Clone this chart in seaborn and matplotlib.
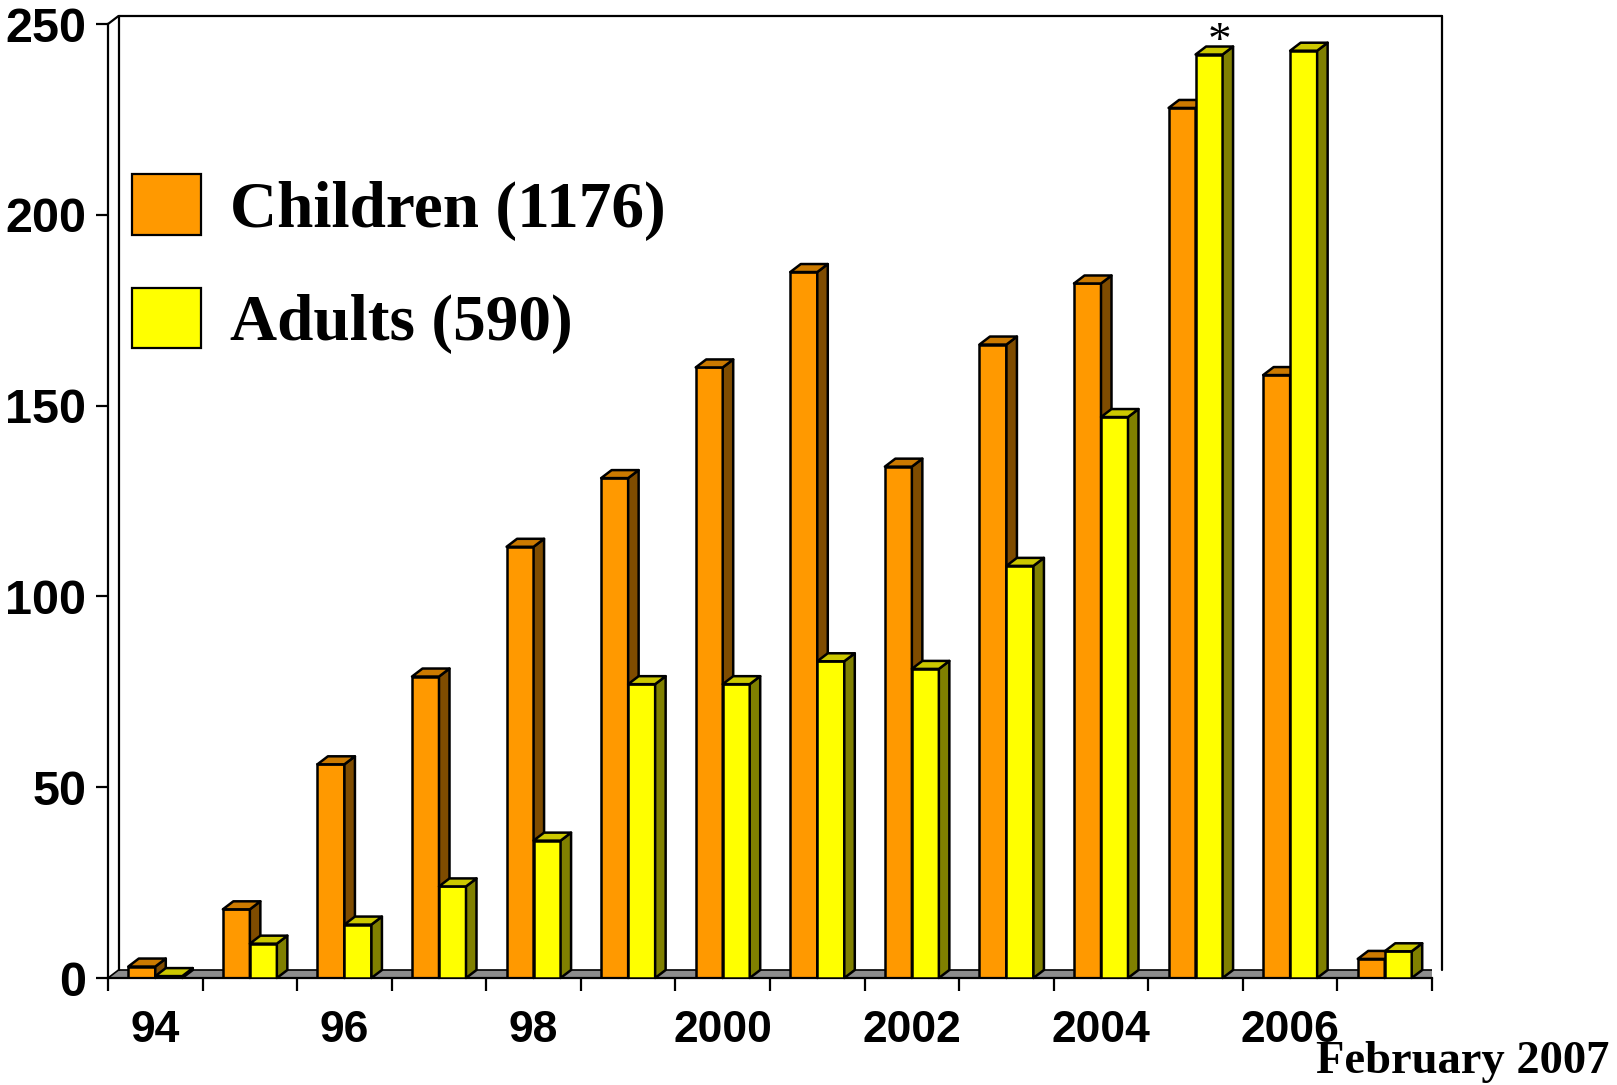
"""
plot.py: registrations per year, children vs adults (pseudo-3D bars), Feb 2007.
"""

import matplotlib
matplotlib.use("Agg")

import pandas as pd
import matplotlib.pyplot as plt
import seaborn as sns
from matplotlib.patches import Polygon
from matplotlib.lines import Line2D

# ---------------------------------------------------------------------------
# Data
# ---------------------------------------------------------------------------
years = ["1994", "1995", "1996", "1997", "1998", "1999", "2000",
         "2001", "2002", "2003", "2004", "2005", "2006", "2007"]
children = [3, 18, 56, 79, 113, 131, 160, 185, 134, 166, 182, 228, 158, 5]
adults = [0.5, 9, 14, 24, 36, 77, 77, 83, 81, 108, 147, 242, 243, 7]
series = ["Children (1176)", "Adults (590)"]
year_ticks = ["94", "96", "98", "2000", "2002", "2004", "2006"]
y_ticks = [0, 50, 100, 150, 200, 250]
star_year = "2005"
footnote = "February 2007"

ORANGE, ORANGE_SIDE, ORANGE_TOP = "#FF9900", "#7F4C00", "#CC7A00"
YELLOW, YELLOW_SIDE, YELLOW_TOP = "#FFFF00", "#808000", "#CCC800"
FLOOR = "#8C8C8C"

sns.set_style("white")
plt.rcParams["font.family"] = ["Liberation Sans", "DejaVu Sans"]
for key in ["text.color", "axes.labelcolor", "xtick.color", "ytick.color", "axes.edgecolor"]:
    plt.rcParams[key] = "black"

df = pd.DataFrame({
    "year": years * 2,
    "count": children + adults,
    "group": [series[0]] * len(years) + [series[1]] * len(years),
})

W, H = 1617, 1085
fig = plt.figure(figsize=(W / 100, H / 100), dpi=100)
ax = fig.add_axes([108 / W, 1 - 978 / H, 1324 / W, (978 - 24) / H])

sns.barplot(data=df, x="year", y="count", hue="group", order=years,
            hue_order=series, palette=[ORANGE, YELLOW], saturation=1,
            width=0.571, edgecolor="black", linewidth=1.8, ax=ax)

n = len(years)
ax.set_xlim(-0.5, n - 0.5)
ax.set_ylim(0, 250)

# depth of the 3D effect (10.5 px right, 8 px up) in data units
dx = n * 10.5 / 1324
dy = 250 * 8 / 954

# floor
ax.add_patch(Polygon([(-0.5, 0), (n - 0.5, 0), (n - 0.5 + dx, dy), (-0.5 + dx, dy)],
                     closed=True, facecolor=FLOOR, edgecolor="black",
                     linewidth=1.2, zorder=1))

# back wall frame
wall = dict(color="black", linewidth=1.6, clip_on=False, zorder=1)
ax.add_line(Line2D([-0.5 + dx, -0.5 + dx], [dy, 250 + dy], **wall))
ax.add_line(Line2D([-0.5 + dx, n - 0.5 + dx], [250 + dy, 250 + dy], **wall))
ax.add_line(Line2D([n - 0.5 + dx, n - 0.5 + dx], [250 + dy, dy], **wall))
ax.add_line(Line2D([-0.5, -0.5 + dx], [250, 250 + dy], **wall))

# side and top faces of every bar
shades = [(ORANGE_SIDE, ORANGE_TOP), (YELLOW_SIDE, YELLOW_TOP)]
for k, cont in enumerate(ax.containers[:2]):
    side_c, top_c = shades[k]
    for rect in cont.patches:
        rect.set_zorder(2 + k)
        x0, w, h = rect.get_x(), rect.get_width(), rect.get_height()
        top = Polygon([(x0, h), (x0 + dx, h + dy), (x0 + w + dx, h + dy), (x0 + w, h)],
                      closed=True, facecolor=top_c, edgecolor="black",
                      linewidth=1.8, joinstyle="round", clip_on=False, zorder=2 + k)
        side = Polygon([(x0 + w, 0), (x0 + w, h), (x0 + w + dx, h + dy), (x0 + w + dx, dy)],
                       closed=True, facecolor=side_c, edgecolor="black",
                       linewidth=1.8, joinstyle="round", clip_on=False, zorder=2 + k)
        ax.add_patch(side)
        ax.add_patch(top)

# asterisk on the 2005 adult bar
star_bar = ax.containers[1].patches[years.index(star_year)]
ax.text(star_bar.get_x() + star_bar.get_width() / 2 + dx,
        star_bar.get_height() + dy + 1.0, "*", ha="center", va="center",
        fontsize=34, family="Liberation Serif", zorder=5, clip_on=False)

# axes styling
for s in ["top", "right"]:
    ax.spines[s].set_visible(False)
ax.spines["left"].set_linewidth(1.6)
ax.spines["bottom"].set_linewidth(1.6)
ax.spines["left"].set_zorder(1.5)

ax.set_yticks(y_ticks)
ax.set_yticklabels([str(v) for v in y_ticks], fontsize=35, fontweight="bold")
ax.tick_params(axis="y", length=8.6, width=1.6, pad=7, left=True)

ax.set_xticks([i - 0.5 for i in range(n + 1)])
ax.set_xticklabels([])
ax.set_xticks([years.index(y) for y in years if y[-2:] in [t[-2:] for t in year_ticks]],
              minor=True)
ax.set_xticklabels(year_ticks, minor=True, fontsize=32, fontweight="bold")
ax.tick_params(axis="x", which="major", length=9.4, width=1.6, bottom=True)
ax.tick_params(axis="x", which="minor", length=0, pad=23)
ax.set_xlabel("")
ax.set_ylabel("")
ax.grid(False)

# legend
handles, labels = ax.get_legend_handles_labels()
leg = ax.legend(handles, labels, loc="upper left",
                bbox_to_anchor=(132 / W, 1 - 174 / H), bbox_transform=fig.transFigure,
                frameon=False, prop={"family": "Liberation Serif", "weight": "bold", "size": 47},
                handlelength=1.05, handleheight=1.05, handletextpad=0.45,
                labelspacing=0.72, borderpad=0, borderaxespad=0)
for h in leg.legend_handles:
    h.set_edgecolor("black")
    h.set_linewidth(1.6)

fig.text(1609 / W, 12 / H, footnote, ha="right", va="baseline",
         fontsize=33.5, fontweight="bold", family="Liberation Serif")

fig.savefig("out.png", dpi=100)
plt.close(fig)
